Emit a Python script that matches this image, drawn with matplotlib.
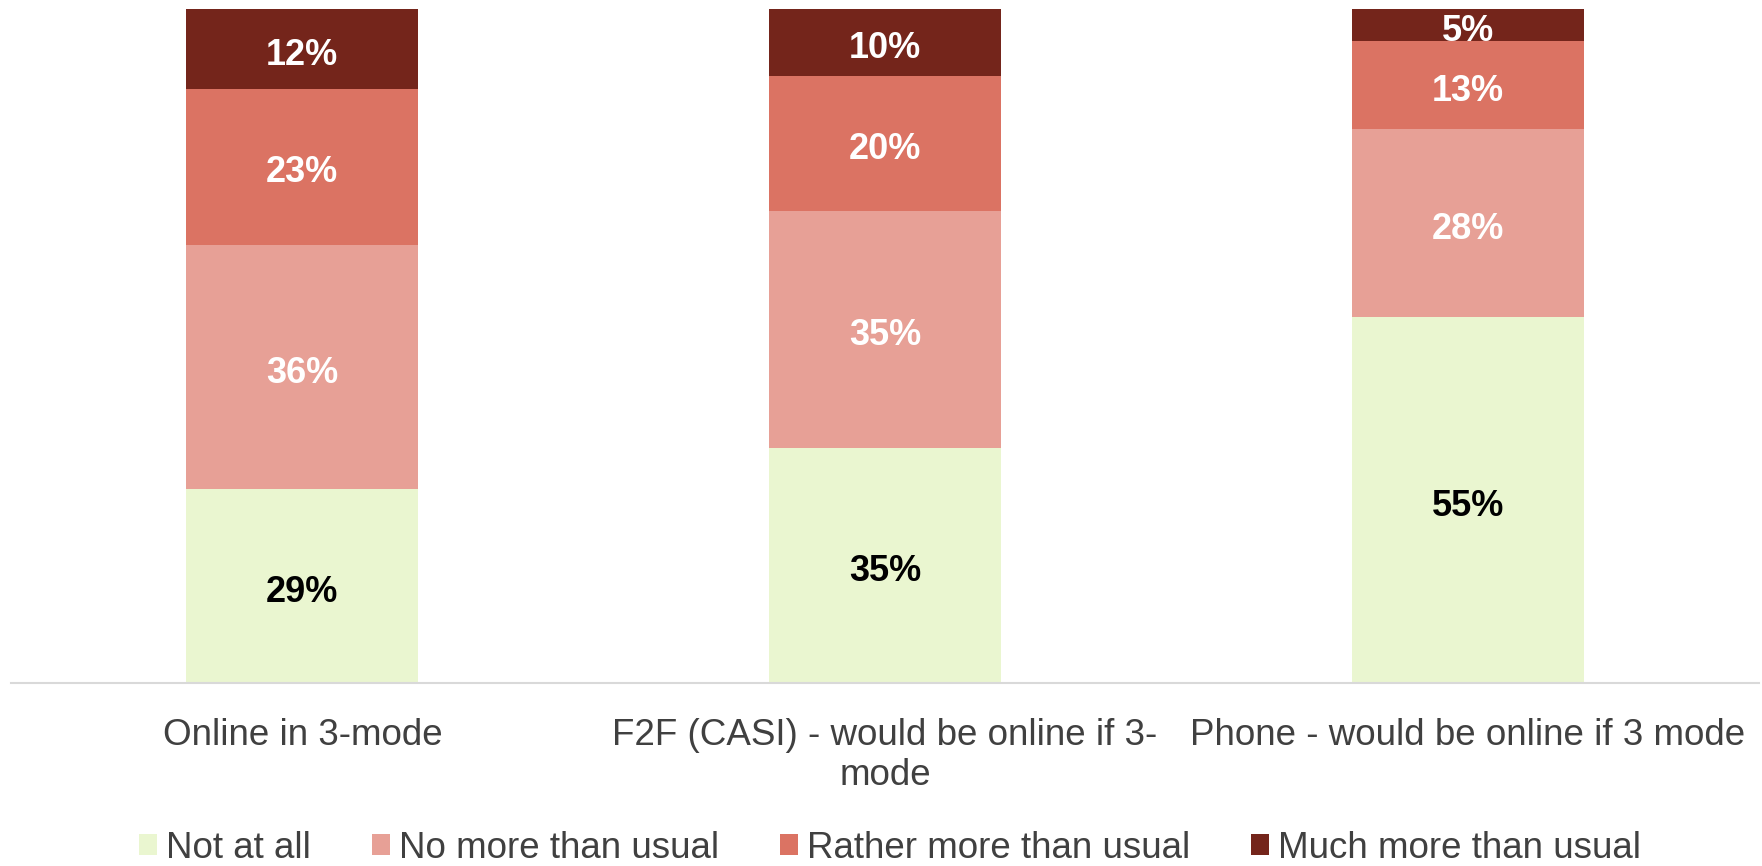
import matplotlib
matplotlib.use("Agg")
import matplotlib.pyplot as plt
import numpy as np

categories = ["Online in 3-mode",
              "F2F (CASI) - would be online if 3-\nmode",
              "Phone - would be online if 3 mode"]
series_names = ["Not at all", "No more than usual",
                "Rather more than usual", "Much more than usual"]
not_at_all = [28.8, 34.8, 54.3]
no_more = [36.2, 35.3, 27.9]
rather_more = [23.2, 19.9, 13.0]
much_more = [11.8, 10.0, 4.8]
label_not_at_all = ["29%", "35%", "55%"]
label_no_more = ["36%", "35%", "28%"]
label_rather_more = ["23%", "20%", "13%"]
label_much_more = ["12%", "10%", "5%"]

colors = ["#EAF6D0", "#E7A096", "#DB7363", "#74251B"]
text_colors = ["black", "white", "white", "white"]

plt.rcParams['font.family'] = ['Liberation Sans', 'DejaVu Sans']

fig = plt.figure(figsize=(17.62, 8.66), dpi=100)
ax = fig.add_axes([11/1762, 1 - 683/866, (1759 - 11)/1762, (683 - 9)/866])

x = np.arange(len(categories))
series = [not_at_all, no_more, rather_more, much_more]
labels = [label_not_at_all, label_no_more, label_rather_more, label_much_more]
bottom = np.zeros(len(categories))
for vals, lab, col, tcol, name in zip(series, labels, colors, text_colors, series_names):
    vals = np.array(vals)
    bars = ax.bar(x, vals, width=0.398, bottom=bottom, color=col, label=name,
                  edgecolor='none')
    for rect, txt in zip(bars, lab):
        cx = rect.get_x() + rect.get_width() / 2
        cy = rect.get_y() + rect.get_height() / 2
        ax.annotate(txt, (cx, cy), xytext=(0, -4.5), textcoords='offset points',
                    ha='center', va='center', color=tcol,
                    fontsize=26, fontweight='bold')
    bottom = bottom + vals

ax.set_xlim(-0.5, 2.5)
ax.set_ylim(0, 100)
ax.set_xticks(x)
ax.set_xticklabels(categories, fontsize=26.5, color='#404040')
ax.tick_params(axis='x', length=0, pad=25)
ax.set_yticks([])
for s in ['top', 'left', 'right']:
    ax.spines[s].set_visible(False)
ax.spines['bottom'].set_color('#D9D9D9')
ax.spines['bottom'].set_linewidth(1.5)

fig.legend(loc='center', bbox_to_anchor=(890/1762, 1 - 848/866), ncol=4,
           frameon=False, fontsize=26.5, handlelength=0.49, handleheight=0.49,
           handletextpad=0.25, columnspacing=1.65, borderpad=0,
           labelcolor='#404040')

fig.savefig("out.png", dpi=100)
